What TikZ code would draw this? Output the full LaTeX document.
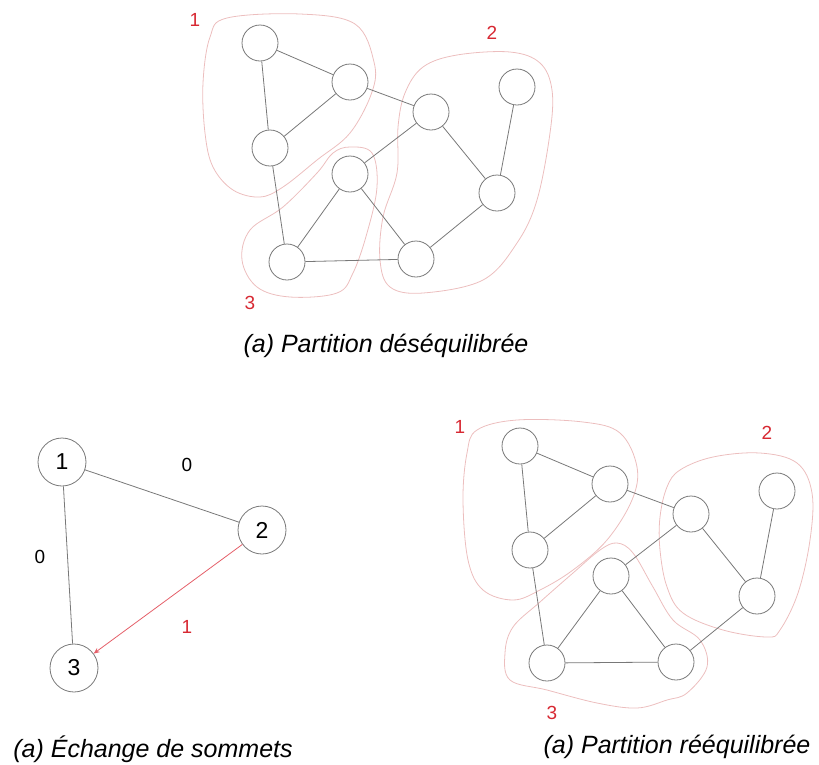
\documentclass[tikz,border=0pt]{standalone}
\usepackage{fontspec}
\setmainfont{Liberation Sans}
\usetikzlibrary{arrows.meta}
\definecolor{zonerose}{RGB}{236,190,190}
\definecolor{rougenum}{RGB}{215,40,50}
\definecolor{rougeclair}{RGB}{228,95,105}
\definecolor{gristrait}{RGB}{120,120,120}
\tikzset{
  sommet/.style={circle, draw=gristrait, line width=0.8pt, minimum size=36pt, inner sep=0pt},
  grossommet/.style={sommet, minimum size=48pt, font=\fontsize{23}{27}\selectfont},
  arete/.style={draw=gristrait, line width=0.8pt},
  zone/.style={draw=zonerose, line width=0.8pt},
  numzone/.style={text=rougenum, font=\fontsize{19}{22}\selectfont},
  poids/.style={font=\fontsize{19}{22}\selectfont},
  legende/.style={anchor=base, font=\itshape\fontsize{25}{30}\selectfont}
}
\begin{document}
\begin{tikzpicture}[x=1pt,y=-1pt]
  \useasboundingbox (0,0) rectangle (819,764);
  % partition desequilibree
  \draw[zone] plot[smooth cycle, tension=0.6] coordinates {(227,18) (300,14) (355,24) (374,62)
    (372,92) (350,133) (317,160) (283,187) (260,197) (233,190) (213,167) (205,133) (203,83) (210,37)};
  \draw[zone] plot[smooth cycle, tension=0.6] coordinates {(457,55) (510,52) (540,63) (552,90)
    (550,133) (537,200) (517,243) (483,280) (423,293) (390,287) (380,260) (383,217) (397,173)
    (398,127) (405,93) (423,67)};
  \draw[zone] plot[smooth cycle, tension=0.6] coordinates {(350,147) (372,153) (377,187) (367,233)
    (353,273) (337,293) (290,297) (257,287) (242,260) (250,230) (283,207) (317,173) (333,153)};
  \node[numzone] (za1) at (195,20) {1};
  \node[numzone] (za2) at (492,33) {2};
  \node[numzone] (za3) at (250,303) {3};
  \node[sommet] (a1) at (260,43) {};
  \node[sommet] (a2) at (350,82) {};
  \node[sommet] (a3) at (270,148) {};
  \node[sommet] (a4) at (431,112) {};
  \node[sommet] (a5) at (517,87) {};
  \node[sommet] (a6) at (350,174) {};
  \node[sommet] (a7) at (497,193) {};
  \node[sommet] (a8) at (287,262) {};
  \node[sommet] (a9) at (416,259) {};
  \draw[arete] (a1) -- (a2) -- (a3) -- (a1);
  \draw[arete] (a2) -- (a4) -- (a6) -- (a8) -- (a3);
  \draw[arete] (a4) -- (a7) -- (a5);
  \draw[arete] (a6) -- (a9) -- (a8);
  \draw[arete] (a9) -- (a7);
  \node[legende] (lega) at (386,352) {(a) Partition déséquilibrée};
  % echange de sommets
  \node[grossommet] (n1) at (62,462) {1};
  \node[grossommet] (n2) at (262,530) {2};
  \node[grossommet] (n3) at (74,668) {3};
  \draw[arete] (n1) -- (n2);
  \draw[arete] (n1) -- (n3);
  \draw[draw=rougeclair, line width=0.8pt, -{Stealth[length=6pt, width=5pt]}] (n2) -- (n3);
  \node[poids] (p12) at (187,465) {0};
  \node[poids] (p13) at (40,557) {0};
  \node[poids, text=rougenum] (p23) at (187,627) {1};
  \node[legende] (legb) at (153,757) {(a) Échange de sommets};
  % partition reequilibree
  \draw[zone] plot[smooth cycle, tension=0.6] coordinates {(477,430) (517,420) (583,422) (620,433)
    (637,467) (632,500) (607,540) (573,570) (540,590) (513,600) (483,590) (468,560) (463,500) (467,453)};
  \draw[zone] plot[smooth cycle, tension=0.6] coordinates {(680,470) (713,457) (760,453) (797,463)
    (812,493) (810,540) (798,593) (780,630) (767,637) (723,630) (683,613) (667,587) (660,550)
    (660,517) (667,487)};
  \draw[zone] plot[smooth cycle, tension=0.6] coordinates {(617,543) (633,553) (653,587) (673,620)
    (700,640) (707,667) (687,693) (667,700) (637,708) (597,703) (547,690) (510,680) (505,653)
    (513,627) (540,602) (573,573) (600,550)};
  \node[numzone] (zb1) at (460,427) {1};
  \node[numzone] (zb2) at (767,433) {2};
  \node[numzone] (zb3) at (552,713) {3};
  \node[sommet] (b1) at (520,446) {};
  \node[sommet] (b2) at (610,484) {};
  \node[sommet] (b3) at (530,550) {};
  \node[sommet] (b4) at (691,514) {};
  \node[sommet] (b5) at (777,491) {};
  \node[sommet] (b6) at (611,576) {};
  \node[sommet] (b7) at (757,596) {};
  \node[sommet] (b8) at (547,663) {};
  \node[sommet] (b9) at (676,662) {};
  \draw[arete] (b1) -- (b2) -- (b3) -- (b1);
  \draw[arete] (b2) -- (b4) -- (b6) -- (b8) -- (b3);
  \draw[arete] (b4) -- (b7) -- (b5);
  \draw[arete] (b6) -- (b9) -- (b8);
  \draw[arete] (b9) -- (b7);
  \node[legende] (legc) at (677,753) {(a) Partition rééquilibrée};
\end{tikzpicture}
\end{document}
